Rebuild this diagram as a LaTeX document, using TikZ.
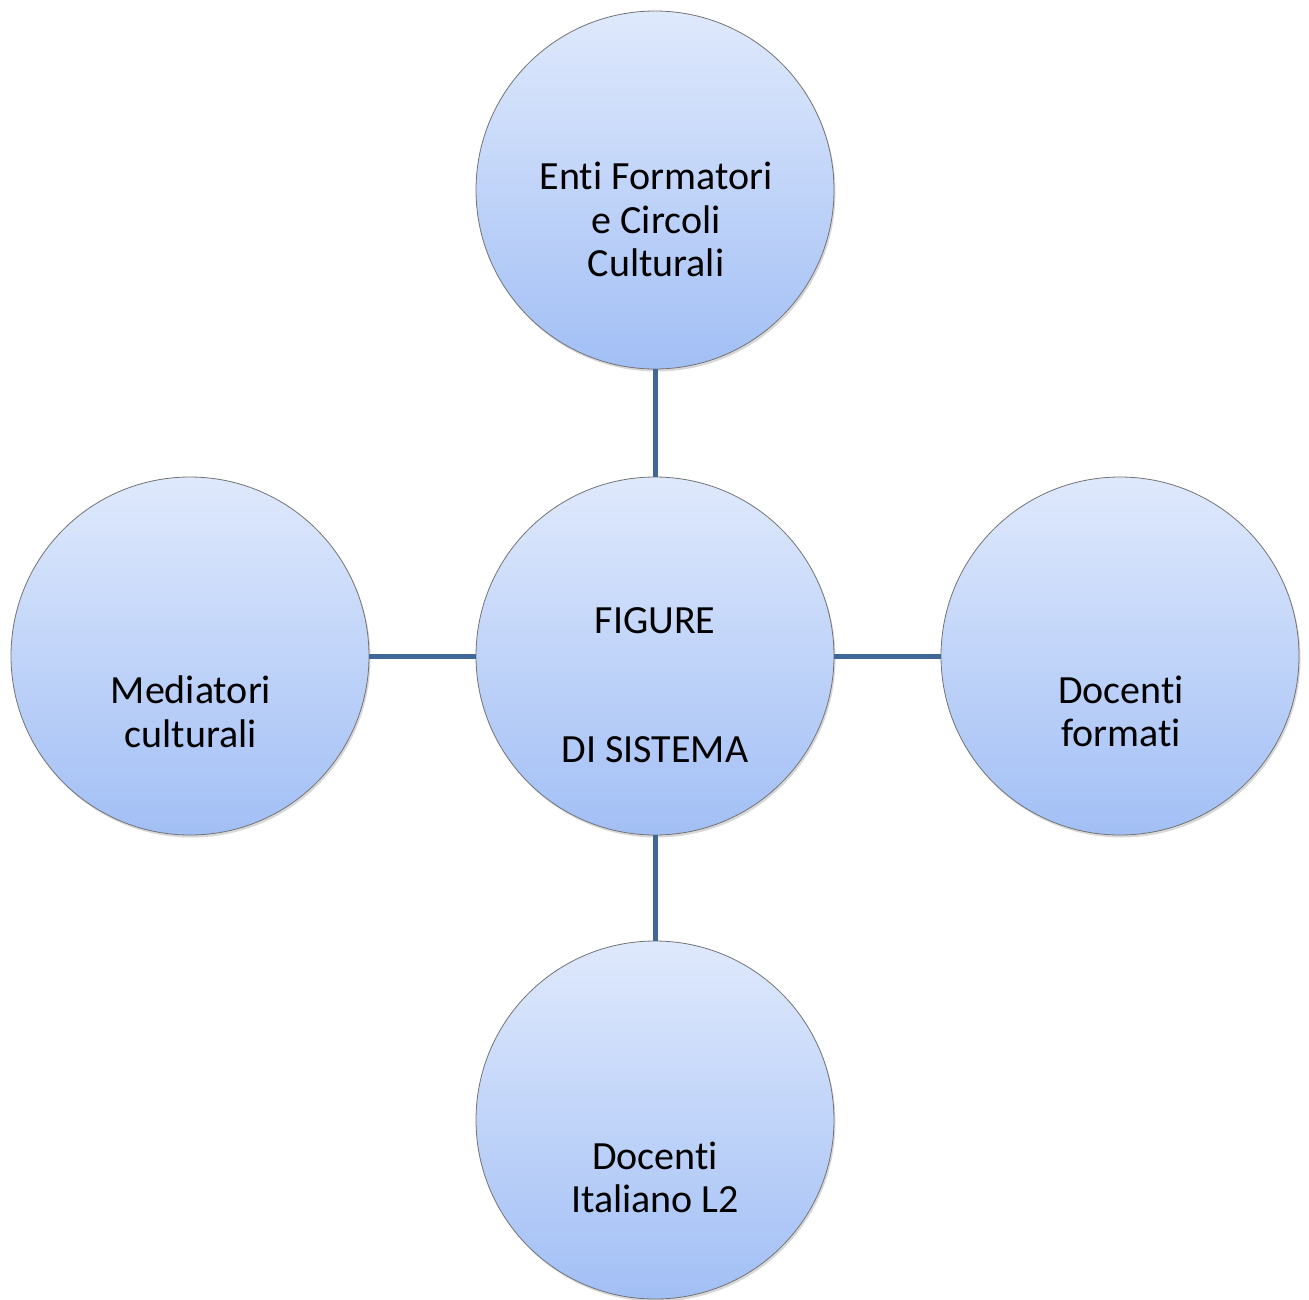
\documentclass[tikz,border=0pt]{standalone}
\usepackage{fontspec}
\setmainfont[Ligatures=NoCommon]{Carlito}
\usetikzlibrary{shadows}
\definecolor{linkblue}{HTML}{3F6797}
\definecolor{topblue}{HTML}{DFE9FC}
\definecolor{botblue}{HTML}{A2BFF5}
\tikzset{
  bubble/.style={circle, minimum size=358pt, inner sep=0pt, draw=black!55, line width=0.8pt,
    top color=topblue, bottom color=botblue,
    drop shadow={shadow xshift=1.5pt, shadow yshift=-2.5pt, fill=black!30, opacity=0.5}},
  txt/.style={align=center, inner sep=0pt, font=\fontsize{40}{43.5}\selectfont},
  link/.style={draw=linkblue, line width=5pt}
}
\begin{document}
\begin{tikzpicture}[x=1pt,y=-1pt]
\useasboundingbox (0,0) rectangle (1309,1299);
\node[bubble] (c) at (655,656) {};
\node[bubble] (t) at (655,190) {};
\node[bubble] (l) at (190,656) {};
\node[bubble] (r) at (1120,656) {};
\node[bubble] (b) at (655,1120) {};
\draw[link] (t) -- (c);
\draw[link] (l) -- (c);
\draw[link] (r) -- (c);
\draw[link] (b) -- (c);
\node[txt] (ct) at (655,685.5) {FIGURE\\[85.5pt]DI SISTEMA};
\node[txt] (tt) at (656,219.5) {Enti Formatori\\e Circoli\\Culturali};
\node[txt] (lt) at (191,711.5) {Mediatori\\culturali};
\node[txt] (rt) at (1121,711.5) {Docenti\\formati};
\node[txt] (bt) at (655,1177.5) {Docenti\\Italiano L2};
\end{tikzpicture}
\end{document}
